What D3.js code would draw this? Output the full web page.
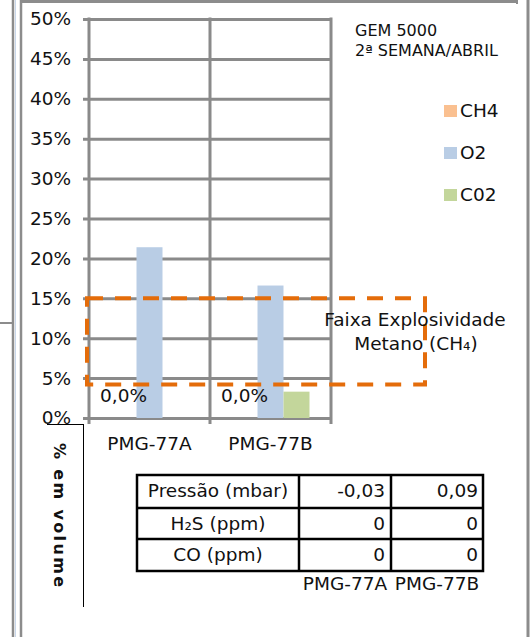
<!DOCTYPE html>
<html>
<head>
<meta charset="utf-8">
<script src="https://cdn.jsdelivr.net/npm/d3@7"></script>
<style>
  html, body { margin: 0; padding: 0; background: #fff; }
  svg { display: block; }
  text { font-family: "DejaVu Sans", Verdana, sans-serif; fill: #111; }
</style>
</head>
<body>
<svg id="chart" width="530" height="637"></svg>
<script>
// Gas readings per monitoring well (% by volume)
const categories = ["PMG-77A", "PMG-77B"];
const series = ["CH4", "O2", "C02"];
const ch4 = [0, 0];
const o2 = [21.4, 16.6];
const co2 = [0, 3.3];
const yTicks = [0, 5, 10, 15, 20, 25, 30, 35, 40, 45, 50];
const explosiveBand = [4.2, 15];

// Auxiliary table under the chart
const tableLabels = ["Pressão (mbar)", "H₂S (ppm)", "CO (ppm)"];
const pressure = [-0.03, 0.09];
const h2s = [0, 0];
const co = [0, 0];

const colors = { CH4: "#FAC090", O2: "#B9CDE5", C02: "#C3D69B" };
const gridColor = "#8a8a8a";
const orange = "#E46C0A";
const fs = 18.5;

const pt = d3.formatLocale({ decimal: ",", thousands: ".", grouping: [3], currency: ["R$", ""], minus: "-" });
const pct0 = pt.format(".0%");
const pct1 = pt.format(".1%");
const num2 = pt.format(".2f");

const svg = d3.select("#chart");

// Outer frame lines
svg.append("line").attr("x1", 13).attr("x2", 13).attr("y1", 0).attr("y2", 637)
  .attr("stroke", "#8c8c8c").attr("stroke-width", 2.5);
svg.append("line").attr("x1", 15.5).attr("x2", 15.5).attr("y1", 0).attr("y2", 637)
  .attr("stroke", "#c9d7ea").attr("stroke-width", 1);
svg.append("line").attr("x1", 21).attr("x2", 21).attr("y1", 0).attr("y2", 637)
  .attr("stroke", "#8c8c8c").attr("stroke-width", 2.5);
svg.append("line").attr("x1", 0).attr("x2", 13).attr("y1", 323).attr("y2", 323)
  .attr("stroke", "#8c8c8c").attr("stroke-width", 2);
svg.append("line").attr("x1", 22).attr("x2", 518).attr("y1", 1.5).attr("y2", 1.5)
  .attr("stroke", "#8c8c8c").attr("stroke-width", 3);
svg.append("line").attr("x1", 517).attr("x2", 517).attr("y1", 0).attr("y2", 4)
  .attr("stroke", "#8c8c8c").attr("stroke-width", 2);
svg.append("line").attr("x1", 528).attr("x2", 528).attr("y1", 0).attr("y2", 637)
  .attr("stroke", "#8c8c8c").attr("stroke-width", 3);

// Scales
const y = d3.scaleLinear().domain([0, 50]).range([418, 19]);
const x = d3.scaleBand().domain(categories).range([89, 331]).padding(0);
const xs = d3.scaleBand().domain(series).range([21.5, x.bandwidth() - 21.5]).padding(0);

const plot = svg.append("g");

// Horizontal gridlines with small outside ticks
plot.append("g").attr("transform", "translate(331,0)")
  .call(d3.axisLeft(y).tickValues(yTicks).tickSize(331 - 83).tickFormat(""))
  .call(g => g.select(".domain").remove())
  .call(g => g.selectAll(".tick line").attr("stroke", gridColor).attr("stroke-width", 3));

// Vertical gridlines at category boundaries, running a little below zero
const vLines = [x.range()[0], ...categories.map(c => x(c) + x.bandwidth())];
plot.selectAll(".vgrid").data(vLines).join("line").attr("class", "vgrid")
  .attr("x1", d => d).attr("x2", d => d).attr("y1", y(50) - 1.5).attr("y2", y(0) + 6)
  .attr("stroke", gridColor).attr("stroke-width", 3);

// Y tick labels
plot.selectAll(".ylab").data(yTicks).join("text").attr("class", "ylab")
  .attr("x", 71).attr("y", d => y(d)).attr("dy", "0.35em")
  .attr("text-anchor", "end").attr("font-size", fs)
  .text(d => pct0(d / 100));

// Bars
const rows = categories.map((c, i) => ({ cat: c, CH4: ch4[i], O2: o2[i], C02: co2[i] }));
const groups = plot.selectAll(".grp").data(rows).join("g").attr("class", "grp")
  .attr("transform", d => `translate(${x(d.cat)},0)`);
groups.selectAll("rect").data(d => series.map(s => ({ s, v: d[s] }))).join("rect")
  .attr("x", d => xs(d.s)).attr("width", xs.bandwidth())
  .attr("y", d => y(d.v)).attr("height", d => y(0) - y(d.v))
  .attr("fill", d => colors[d.s]);

// Category labels
plot.selectAll(".xlab").data(categories).join("text").attr("class", "xlab")
  .attr("x", d => x(d) + x.bandwidth() / 2).attr("y", 450)
  .attr("text-anchor", "middle").attr("font-size", fs).text(d => d);

// Explosive range of methane (dashed box)
const bandTop = y(explosiveBand[1]), bandBot = y(explosiveBand[0]);
const bx0 = 87, bx1 = 425;
plot.append("path")
  .attr("d", `M${bx0},${bandTop}H${bx1}V${bandBot}H${bx0}Z`)
  .attr("fill", "none").attr("stroke", orange).attr("stroke-width", 4)
  .attr("stroke-dasharray", "16 12");

// CH4 data labels
groups.append("text")
  .attr("x", () => xs("CH4") + xs.bandwidth() / 2)
  .attr("y", d => y(d.CH4) - 16)
  .attr("text-anchor", "middle").attr("font-size", fs)
  .text(d => pct1(d.CH4 / 100));

// Band label
const bandLabel = svg.append("text").attr("text-anchor", "middle").attr("font-size", fs);
bandLabel.append("tspan").attr("x", 415).attr("y", 326).text("Faixa Explosividade");
bandLabel.append("tspan").attr("x", 416).attr("y", 350).text("Metano (CH₄)");

// Title block
svg.append("text").attr("x", 355).attr("y", 36).attr("font-size", 16).text("GEM 5000");
svg.append("text").attr("x", 355).attr("y", 56).attr("font-size", 16).text("2ª SEMANA/ABRIL");

// Legend
const leg = svg.selectAll(".leg").data(series).join("g").attr("class", "leg")
  .attr("transform", (d, i) => `translate(444,${105 + i * 42})`);
leg.append("rect").attr("width", 13).attr("height", 12).attr("fill", d => colors[d]);
leg.append("text").attr("x", 16).attr("y", 11.5).attr("font-size", fs).text(d => d);

// Y axis title
svg.append("line").attr("x1", 47).attr("x2", 83).attr("y1", 424.5).attr("y2", 424.5)
  .attr("stroke", "#000").attr("stroke-width", 1);
svg.append("line").attr("x1", 83.5).attr("x2", 83.5).attr("y1", 424).attr("y2", 607)
  .attr("stroke", "#000").attr("stroke-width", 1);
svg.append("text").attr("transform", "translate(54,443) rotate(90)")
  .attr("font-size", 16).attr("font-weight", "bold")
  .attr("textLength", 144).attr("lengthAdjust", "spacing")
  .text("% em volume");

// Table
const tx = [137, 299, 391, 483];
const ty = [475, 508, 539, 571];
const tableData = [
  [tableLabels[0], ...pressure.map(num2)],
  [tableLabels[1], ...h2s.map(String)],
  [tableLabels[2], ...co.map(String)]
];
const tbl = svg.append("g");
tbl.append("rect").attr("x", tx[0]).attr("y", ty[0])
  .attr("width", tx[3] - tx[0]).attr("height", ty[3] - ty[0])
  .attr("fill", "none").attr("stroke", "#000").attr("stroke-width", 2.5);
[ty[1], ty[2]].forEach(v => tbl.append("line").attr("x1", tx[0]).attr("x2", tx[3])
  .attr("y1", v).attr("y2", v).attr("stroke", "#000").attr("stroke-width", 2.5));
[tx[1], tx[2]].forEach(v => tbl.append("line").attr("x1", v).attr("x2", v)
  .attr("y1", ty[0]).attr("y2", ty[3]).attr("stroke", "#000").attr("stroke-width", 2.5));
tableData.forEach((row, r) => {
  const base = ty[r] + 22;
  tbl.append("text").attr("x", (tx[0] + tx[1]) / 2).attr("y", base)
    .attr("text-anchor", "middle").attr("font-size", fs).text(row[0]);
  tbl.append("text").attr("x", tx[2] - 6).attr("y", base)
    .attr("text-anchor", "end").attr("font-size", fs).text(row[1]);
  tbl.append("text").attr("x", tx[3] - 5).attr("y", base)
    .attr("text-anchor", "end").attr("font-size", fs).text(row[2]);
});
categories.forEach((c, i) => {
  tbl.append("text").attr("x", (tx[i + 1] + tx[i + 2]) / 2).attr("y", 590)
    .attr("text-anchor", "middle").attr("font-size", fs).text(c);
});
</script>
</body>
</html>
